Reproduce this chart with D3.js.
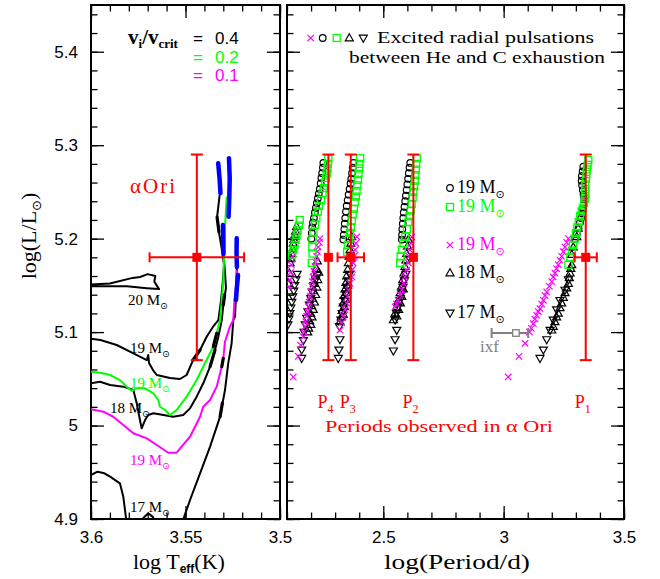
<!DOCTYPE html>
<html>
<head>
<meta charset="utf-8">
<script src="https://cdn.jsdelivr.net/npm/d3@7"></script>
<style>
  body { margin: 0; background: #fff; }
  text { fill: #000; }
</style>
</head>
<body>
<svg id="chart" width="660" height="579"></svg>
<script>
// ---------------- axis ticks ----------------
const lumMajor = [4.9, 5.0, 5.1, 5.2, 5.3, 5.4];
const lumLabels = ["4.9", "5", "5.1", "5.2", "5.3", "5.4"];
const teffMajor = [3.6, 3.55, 3.5];
const teffLabels = ["3.6", "3.55", "3.5"];
const perMajor = [2.5, 3.0, 3.5];
const perLabels = ["2.5", "3", "3.5"];

// ---------------- HR diagram tracks [logTeff, logL] ----------------
const track20 = [[3.600,5.151],[3.590,5.152],[3.578,5.158],[3.574,5.159],[3.570,5.162],[3.566,5.160],[3.5665,5.154],[3.564,5.146],[3.5705,5.147],[3.581,5.149],[3.600,5.149]];
const track19v04 = [[3.600,5.093],[3.595,5.0915],[3.5864,5.0862],[3.5778,5.0776],[3.5705,5.0701],[3.5697,5.0755],[3.5693,5.067],[3.5672,5.0594],[3.5652,5.0541],[3.5582,5.0508],[3.5529,5.0498],[3.5494,5.0541],[3.546,5.0701],[3.5423,5.0808],[3.5388,5.095],[3.5354,5.1058],[3.5326,5.1129],[3.5312,5.1343],[3.5302,5.1557],[3.5296,5.1718],[3.5307,5.1878],[3.5323,5.2071],[3.5333,5.2231],[3.5318,5.2488]];
const track19v02 = [[3.600,5.0576],[3.5952,5.0565],[3.5899,5.0541],[3.5847,5.0487],[3.5811,5.0415],[3.5785,5.0373],[3.5758,5.0398],[3.5714,5.0398],[3.567,5.0345],[3.5644,5.0273],[3.5635,5.0201],[3.5608,5.0166],[3.5582,5.0113],[3.5547,5.0166],[3.5494,5.0309],[3.5441,5.0487],[3.5397,5.0666],[3.5353,5.0843],[3.5335,5.0987],[3.5317,5.1129],[3.5308,5.1343],[3.530,5.1557],[3.5296,5.1807],[3.5291,5.2128],[3.5282,5.2449]];
const track19v01 = [[3.600,5.0174],[3.5935,5.0148],[3.5882,5.0094],[3.5829,5.0006],[3.5776,4.9917],[3.5705,4.9863],[3.5652,4.9792],[3.5591,4.9709],[3.5547,4.9709],[3.5529,4.9756],[3.5476,4.988],[3.5423,5.0094],[3.5406,5.0202],[3.537,5.0273],[3.5335,5.0416],[3.5308,5.063],[3.5300,5.072],[3.5291,5.0897],[3.5265,5.1058],[3.5247,5.1129],[3.5242,5.1311],[3.5233,5.1486],[3.5229,5.1664]];
const track18 = [[3.600,5.0452],[3.5952,5.0469],[3.5899,5.0434],[3.5829,5.0416],[3.5776,5.038],[3.5758,5.0238],[3.5741,5.0059],[3.5732,4.997],[3.5714,5.0059],[3.5697,5.0113],[3.567,5.0131],[3.5617,5.0113],[3.5565,5.0095],[3.5512,5.0113],[3.5476,5.0184],[3.5441,5.0309],[3.5406,5.0452],[3.537,5.063],[3.5344,5.0808],[3.5326,5.0951],[3.5308,5.1129],[3.530,5.129],[3.5286,5.1472],[3.5291,5.1643],[3.5299,5.1835]];
const track17hot = [[3.600,4.9471],[3.5965,4.9506],[3.5929,4.9489],[3.5899,4.9453],[3.5847,4.9382],[3.5829,4.9238],[3.5811,4.895]];
const track17loop = [[3.5735,4.895],[3.5723,4.901],[3.5697,4.9061],[3.5672,4.902],[3.5661,4.895]];
const track17rsg = [[3.552,4.895],[3.5476,4.9203],[3.5423,4.9489],[3.537,4.9774],[3.5317,5.0095],[3.5291,5.038],[3.5274,5.0666],[3.5256,5.088],[3.5247,5.1129],[3.5238,5.1165],[3.5234,5.1343],[3.5228,5.1696]];

// short thickened stretches along the red supergiant branches
const trackMarks = [
  [[3.5460,5.0701],[3.5423,5.0808]], [[3.5370,5.0630],[3.5344,5.0808]],
  [[3.5353,5.0843],[3.5335,5.0987]], [[3.5317,5.0095],[3.5305,5.0240]],
  [[3.5308,5.0630],[3.5300,5.0720]], [[3.5323,5.2071],[3.5333,5.2231]],
  [[3.5300,5.1290],[3.5293,5.1400]]
];

// stretches between He and C exhaustion
const pulsSeg1 = [[3.5315,5.2488],[3.5320,5.265],[3.5327,5.2806]];
const pulsSeg2 = [[3.5272,5.2235],[3.5268,5.245],[3.5266,5.265],[3.5270,5.286]];
const pulsSeg3 = [[3.5299,5.1835],[3.5300,5.200],[3.5302,5.2146]];
const pulsSeg4 = [[3.5228,5.1696],[3.5230,5.185],[3.5229,5.2003]];
const pulsSeg5 = [[3.5233,5.1343],[3.5228,5.148],[3.5222,5.1611]];

// alpha Ori position: [value, error]
const oriLogT = [3.544, 0.025];
const oriLogL = [5.18, 0.11];

// ---------------- pulsation periods [logP, logL] ----------------
const circles19 = [
  [2.251,5.281],[2.249,5.276],[2.246,5.270],[2.243,5.265],[2.240,5.259],[2.236,5.253],[2.232,5.248],[2.228,5.243],[2.224,5.238],[2.220,5.233],[2.216,5.228],[2.212,5.222],[2.208,5.217],[2.205,5.212],[2.203,5.206],[2.201,5.200],
  [2.376,5.281],[2.373,5.276],[2.370,5.270],[2.367,5.264],[2.364,5.259],[2.360,5.253],[2.356,5.247],[2.352,5.241],[2.348,5.235],[2.345,5.229],[2.342,5.222],[2.340,5.216],[2.338,5.210],[2.336,5.204],[2.334,5.199],
  [2.612,5.281],[2.609,5.276],[2.606,5.270],[2.603,5.264],[2.600,5.258],[2.597,5.252],[2.594,5.246],[2.591,5.240],[2.588,5.234],[2.585,5.228],[2.583,5.222],[2.581,5.216],[2.579,5.210],[2.578,5.204],[2.577,5.199],
  [3.331,5.277],[3.328,5.272],[3.325,5.267],[3.324,5.262],[3.326,5.257],[3.329,5.252],[3.332,5.247],[3.334,5.242],[3.333,5.237],[3.330,5.232],[3.327,5.227],[3.322,5.222],[3.317,5.217],[3.311,5.211],[3.304,5.205],[3.296,5.200]
];
const squares19 = [
  [2.153,5.220],[2.149,5.214],[2.144,5.209],[2.140,5.204],[2.136,5.199],[2.131,5.193],[2.126,5.188],[2.121,5.183],
  [2.272,5.286],[2.270,5.280],[2.268,5.275],[2.265,5.270],[2.262,5.265],[2.258,5.260],[2.253,5.254],[2.248,5.249],[2.241,5.241],[2.234,5.235],[2.228,5.229],[2.222,5.222],[2.216,5.215],[2.210,5.207],[2.206,5.199],[2.205,5.191],[2.206,5.184],[2.203,5.174],
  [2.404,5.286],[2.401,5.280],[2.399,5.275],[2.397,5.269],[2.395,5.263],[2.392,5.257],[2.389,5.251],[2.386,5.245],[2.382,5.239],[2.378,5.232],[2.373,5.226],[2.369,5.219],[2.365,5.212],[2.361,5.206],[2.357,5.200],[2.353,5.193],[2.350,5.186],
  [2.639,5.286],[2.637,5.280],[2.635,5.274],[2.633,5.268],[2.631,5.262],[2.628,5.256],[2.625,5.250],[2.622,5.244],[2.618,5.237],[2.614,5.230],[2.609,5.224],[2.604,5.218],[2.598,5.210],[2.591,5.202],[2.584,5.195],[2.577,5.188],[2.572,5.181],[2.570,5.174],
  [3.352,5.284],[3.349,5.279],[3.346,5.274],[3.344,5.269],[3.342,5.264],[3.339,5.258],[3.338,5.253],[3.340,5.248],[3.337,5.243],[3.334,5.238],[3.328,5.232],[3.324,5.229],[3.318,5.224],[3.312,5.218],[3.306,5.212],[3.301,5.206],[3.295,5.200],[3.288,5.193],[3.283,5.187],[3.276,5.180],[3.269,5.172]
];
const crosses19 = [
  [2.122,5.180],[2.118,5.172],[2.115,5.164],[2.112,5.156],[2.108,5.148],
  [2.237,5.200],[2.234,5.196],[2.230,5.191],[2.226,5.186],[2.223,5.181],[2.219,5.175],[2.216,5.170],[2.212,5.165],[2.209,5.159],[2.206,5.154],[2.203,5.149],[2.199,5.143],[2.196,5.138],[2.192,5.132],[2.189,5.127],[2.186,5.122],[2.182,5.117],[2.178,5.111],[2.175,5.106],[2.171,5.100],[2.168,5.095],[2.157,5.086],[2.147,5.074],[2.126,5.052],
  [2.390,5.202],[2.386,5.195],[2.383,5.188],[2.379,5.181],[2.375,5.174],[2.372,5.167],[2.369,5.159],[2.362,5.152],[2.355,5.145],[2.351,5.138],[2.348,5.131],[2.341,5.124],[2.334,5.117],[2.327,5.110],[2.320,5.102],
  [2.618,5.202],[2.615,5.195],[2.611,5.188],[2.607,5.181],[2.604,5.174],[2.597,5.166],[2.590,5.159],[2.584,5.152],[2.577,5.145],[2.570,5.140],[2.562,5.134],[2.555,5.130],[2.549,5.127],
  [3.269,5.200],[3.262,5.196],[3.255,5.191],[3.248,5.186],[3.241,5.181],[3.234,5.177],[3.227,5.172],[3.220,5.168],[3.213,5.163],[3.206,5.159],[3.200,5.154],[3.190,5.149],[3.179,5.143],[3.172,5.139],[3.165,5.134],[3.158,5.130],[3.151,5.125],[3.144,5.122],[3.137,5.118],[3.130,5.114],[3.123,5.109],[3.115,5.104],[3.107,5.100],[3.089,5.088],[3.064,5.074],[3.019,5.052]
];
const triUp18 = [
  [2.140,5.213],[2.136,5.208],[2.133,5.204],[2.129,5.199],[2.126,5.195],[2.123,5.189],[2.120,5.184],[2.116,5.179],[2.113,5.174],[2.110,5.163],[2.105,5.152],
  [2.226,5.176],[2.222,5.168],[2.232,5.164],[2.218,5.160],[2.228,5.156],[2.214,5.152],[2.224,5.148],[2.210,5.144],[2.219,5.140],[2.206,5.136],[2.214,5.132],[2.202,5.128],[2.209,5.124],[2.198,5.120],[2.204,5.116],[2.194,5.112],[2.199,5.108],[2.190,5.104],[2.186,5.100],
  [2.369,5.202],[2.365,5.195],[2.362,5.188],[2.358,5.181],[2.355,5.174],[2.352,5.167],[2.348,5.160],[2.345,5.153],[2.352,5.150],[2.341,5.146],[2.347,5.142],[2.337,5.139],[2.343,5.135],[2.333,5.131],[2.339,5.127],[2.329,5.123],[2.334,5.119],[2.325,5.116],[2.320,5.111],
  [2.604,5.199],[2.601,5.192],[2.597,5.184],[2.594,5.177],[2.590,5.170],[2.586,5.163],[2.581,5.156],[2.576,5.149],[2.583,5.146],[2.570,5.142],[2.577,5.138],[2.563,5.134],[2.571,5.131],[2.556,5.127],[2.564,5.124],[2.549,5.120],[2.556,5.117],[2.542,5.113],
  [3.310,5.211],[3.304,5.202],[3.289,5.191],[3.283,5.183],[3.283,5.172],[3.279,5.168],[3.276,5.163],[3.273,5.158],[3.269,5.152],[3.262,5.147],[3.255,5.142],[3.248,5.137],[3.241,5.131],[3.234,5.126],[3.227,5.120],[3.220,5.116],[3.213,5.111],[3.206,5.106],[3.200,5.102]
];
const triDown17 = [
  [2.142,5.162],[2.137,5.156],[2.132,5.150],[2.128,5.144],[2.124,5.138],[2.120,5.132],[2.116,5.126],[2.112,5.120],[2.108,5.114],[2.104,5.108],
  [2.226,5.161],[2.219,5.156],[2.212,5.150],[2.205,5.143],[2.199,5.136],[2.193,5.129],[2.187,5.122],[2.182,5.115],[2.176,5.108],[2.171,5.100],[2.168,5.091],[2.161,5.081],[2.161,5.072],
  [2.360,5.162],[2.354,5.155],[2.349,5.148],[2.344,5.141],[2.339,5.134],[2.334,5.127],[2.329,5.120],[2.324,5.113],[2.318,5.106],[2.320,5.092],[2.316,5.081],[2.313,5.072],
  [2.594,5.162],[2.588,5.155],[2.582,5.148],[2.576,5.141],[2.569,5.134],[2.562,5.127],[2.555,5.120],[2.549,5.113],[2.556,5.102],[2.549,5.092],[2.542,5.080],
  [3.269,5.156],[3.255,5.145],[3.234,5.134],[3.220,5.124],[3.206,5.113],[3.193,5.102],[3.179,5.092],[3.165,5.081],[3.151,5.072]
];

// observed periods of alpha Ori: logP and its error
const periodNames = ["4", "3", "2", "1"];
const periodLogP = [2.272, 2.365, 2.625, 3.341];
const periodErr = [0, 0.055, 0, 0.046];

// ixf reference period: [logP, minus, plus], logL
const ixfLogP = [3.051, 0.101, 0.051];
const ixfLogL = 5.099;

// ---------------- layout ----------------
const svg = d3.select("#chart");
const yL = d3.scaleLinear().domain([4.9, 5.45]).range([519, 5]);
const xT = d3.scaleLinear().domain([3.6, 3.5]).range([91, 280]);
const xP = d3.scaleLinear().domain([2.1, 3.5]).range([287, 624]);

const RED = "#ff0000", GREEN = "#00ff00", MAG = "#ff00ff", BLUE = "#0000ff", GREY = "#808080";
const SANS = "'Liberation Sans', Arial, sans-serif";
const SERIF = "'Liberation Serif', 'Times New Roman', serif";

const defs = svg.append("defs");
defs.append("clipPath").attr("id", "clipL").append("rect")
  .attr("x", 91).attr("y", 5).attr("width", 189).attr("height", 514);
defs.append("clipPath").attr("id", "clipR").append("rect")
  .attr("x", 287).attr("y", 5).attr("width", 337).attr("height", 514);

const lumMinor = d3.range(4.9, 5.4501, 0.02);

function panelAxes(x, xMajor, xMinor, xLabels) {
  const [x0, x1] = x.range();
  const [y1, y0] = yL.range();
  const style = g => {
    g.select(".domain").remove();
    g.selectAll("line").attr("stroke", "#000").attr("stroke-width", 1.3);
    g.selectAll("text").attr("font-family", SANS).attr("font-size", 17).attr("fill", "#000");
  };
  // bottom
  svg.append("g").attr("transform", `translate(0,${y1})`)
    .call(d3.axisBottom(x).tickValues(xMinor).tickSize(-6.5).tickFormat("")).call(style);
  svg.append("g").attr("transform", `translate(0,${y1})`)
    .call(d3.axisBottom(x).tickValues(xMajor).tickSize(-13).tickPadding(12)
      .tickFormat((d, i) => xLabels[i])).call(style);
  // top
  svg.append("g").attr("transform", `translate(0,${y0})`)
    .call(d3.axisTop(x).tickValues(xMinor).tickSize(-6.5).tickFormat("")).call(style);
  svg.append("g").attr("transform", `translate(0,${y0})`)
    .call(d3.axisTop(x).tickValues(xMajor).tickSize(-13).tickFormat("")).call(style);
  // left / right
  [[x0, d3.axisLeft], [x1, d3.axisRight]].forEach(([px, ax]) => {
    svg.append("g").attr("transform", `translate(${px},0)`)
      .call(ax(yL).tickValues(lumMinor).tickSize(-6.5).tickFormat("")).call(style);
    svg.append("g").attr("transform", `translate(${px},0)`)
      .call(ax(yL).tickValues(lumMajor).tickSize(-13).tickFormat("")).call(style);
  });
  svg.append("rect").attr("x", x0).attr("y", y0).attr("width", x1 - x0).attr("height", y1 - y0)
    .attr("fill", "none").attr("stroke", "#000").attr("stroke-width", 2);
}

panelAxes(xT, teffMajor, d3.range(3.5, 3.6001, 0.01), teffLabels);
panelAxes(xP, perMajor, d3.range(2.1, 3.5001, 0.1), perLabels);

// luminosity labels on the left panel
svg.append("g").attr("transform", "translate(91,0)")
  .call(d3.axisLeft(yL).tickValues(lumMajor).tickSize(0).tickPadding(13)
    .tickFormat((d, i) => lumLabels[i]))
  .call(g => {
    g.select(".domain").remove();
    g.selectAll("text").attr("font-family", SANS).attr("font-size", 17).attr("fill", "#000");
  });

// ---------------- left panel: tracks ----------------
const lineT = d3.line().x(d => xT(d[0])).y(d => yL(d[1]));
const gL = svg.append("g").attr("clip-path", "url(#clipL)");
const tracks = [
  [track20, "#000"], [track19v04, "#000"], [track18, "#000"],
  [track17hot, "#000"], [track17loop, "#000"], [track17rsg, "#000"],
  [track19v02, GREEN], [track19v01, MAG]
];
tracks.forEach(([pts, col]) => {
  gL.append("path").attr("d", lineT(pts)).attr("fill", "none")
    .attr("stroke", col).attr("stroke-width", 2).attr("stroke-linejoin", "round");
});
trackMarks.forEach(pts => {
  gL.append("path").attr("d", lineT(pts)).attr("fill", "none")
    .attr("stroke", "#000").attr("stroke-width", 3.2).attr("stroke-linecap", "round");
});
[pulsSeg1, pulsSeg2, pulsSeg3, pulsSeg4, pulsSeg5].forEach(pts => {
  gL.append("path").attr("d", lineT(pts)).attr("fill", "none")
    .attr("stroke", BLUE).attr("stroke-width", 4.5).attr("stroke-linecap", "round");
});

// error cross helper
function errorCross(g, cx, cy, xLo, xHi, yLo, yHi, col, sq, filled) {
  if (yLo !== null) {
    g.append("line").attr("x1", cx).attr("x2", cx).attr("y1", yLo).attr("y2", yHi)
      .attr("stroke", col).attr("stroke-width", 2);
    [yLo, yHi].forEach(v => g.append("line").attr("x1", cx - 6).attr("x2", cx + 6)
      .attr("y1", v).attr("y2", v).attr("stroke", col).attr("stroke-width", 2));
  }
  if (xLo !== null) {
    g.append("line").attr("x1", xLo).attr("x2", xHi).attr("y1", cy).attr("y2", cy)
      .attr("stroke", col).attr("stroke-width", 2);
    [xLo, xHi].forEach(v => g.append("line").attr("x1", v).attr("x2", v)
      .attr("y1", cy - 5).attr("y2", cy + 5).attr("stroke", col).attr("stroke-width", 2));
  }
  g.append("rect").attr("x", cx - sq / 2).attr("y", cy - sq / 2).attr("width", sq).attr("height", sq)
    .attr("fill", filled ? col : "#fff").attr("stroke", col).attr("stroke-width", filled ? 0 : 1.3);
}

errorCross(svg.append("g"), xT(oriLogT[0]), yL(oriLogL[0]),
  xT(oriLogT[0] + oriLogT[1]), xT(oriLogT[0] - oriLogT[1]),
  yL(oriLogL[0] - oriLogL[1]), yL(oriLogL[0] + oriLogL[1]), RED, 9, true);

// ---------------- right panel: periods ----------------
const gR = svg.append("g").attr("clip-path", "url(#clipR)");
const px = d => xP(d[0]), py = d => yL(d[1]);
const mk = {
  circle: (g, pts, col) => g.selectAll(null).data(pts).join("circle")
    .attr("cx", px).attr("cy", py).attr("r", 3.3).attr("fill", "none").attr("stroke", col).attr("stroke-width", 1.2),
  square: (g, pts, col) => g.selectAll(null).data(pts).join("rect")
    .attr("x", d => px(d) - 3.5).attr("y", d => py(d) - 3.5).attr("width", 7).attr("height", 7)
    .attr("fill", "none").attr("stroke", col).attr("stroke-width", 1.3),
  up: (g, pts, col) => g.selectAll(null).data(pts).join("path")
    .attr("d", d => `M${px(d)},${py(d) - 4.2}l4,7h-8z`)
    .attr("fill", "none").attr("stroke", col).attr("stroke-width", 1.2),
  down: (g, pts, col) => g.selectAll(null).data(pts).join("path")
    .attr("d", d => `M${px(d)},${py(d) + 4.2}l4,-7h-8z`)
    .attr("fill", "none").attr("stroke", col).attr("stroke-width", 1.2),
  cross: (g, pts, col) => g.selectAll(null).data(pts).join("path")
    .attr("d", d => `M${px(d) - 3.2},${py(d) - 3.2}l6.4,6.4m-6.4,0l6.4,-6.4`)
    .attr("fill", "none").attr("stroke", col).attr("stroke-width", 1.2)
};
mk.circle(gR, circles19, "#000");
mk.down(gR, triDown17, "#000");
mk.up(gR, triUp18, "#000");
mk.cross(gR, crosses19, MAG);
mk.square(gR, squares19, GREEN);

// observed periods
periodLogP.forEach((p, i) => {
  const e = periodErr[i];
  errorCross(svg.append("g"), xP(p), yL(oriLogL[0]),
    e > 0 ? xP(p - e) : null, e > 0 ? xP(p + e) : null,
    yL(oriLogL[0] - oriLogL[1]), yL(oriLogL[0] + oriLogL[1]), RED, 9, true);
  const t = svg.append("text").attr("x", xP(p) - 11).attr("y", 408)
    .attr("font-family", SERIF).attr("font-size", 18).style("fill", RED);
  t.append("tspan").text("P");
  t.append("tspan").attr("dy", 5).attr("font-size", 12).text(periodNames[i]);
});

// ixf
errorCross(svg.append("g"), xP(ixfLogP[0]), yL(ixfLogL),
  xP(ixfLogP[0] - ixfLogP[1]), xP(ixfLogP[0] + ixfLogP[2]), null, null, GREY, 6.5, false);
svg.append("text").attr("x", 480).attr("y", 352).attr("font-family", SERIF)
  .attr("font-size", 17).style("fill", GREY).text("ixf");

// ---------------- annotations ----------------
function sunLabel(x, y, num, col, size) {
  const t = svg.append("text").attr("x", x).attr("y", y).attr("font-family", SERIF)
    .attr("font-size", size).style("fill", col);
  t.append("tspan").text(num + " M");
  t.append("tspan").attr("dy", size * 0.28).attr("font-size", size * 0.62)
    .attr("font-family", "'DejaVu Sans', sans-serif").text("\u2299");
  return t;
}
sunLabel(128, 305, "20", "#000", 15);
sunLabel(130, 353, "19", "#000", 15);
sunLabel(130, 388, "19", GREEN, 15);
sunLabel(110, 413, "18", "#000", 15);
sunLabel(130, 465, "19", MAG, 15);
sunLabel(130, 512, "17", "#000", 15);

// alpha Ori
svg.append("text").attr("x", 130).attr("y", 193).attr("font-family", SERIF)
  .attr("font-size", 21).attr("textLength", 45).style("fill", RED).text("\u03b1Ori");

// rotation legend
const vt = svg.append("text").attr("x", 128).attr("y", 44).attr("font-family", SERIF)
  .attr("font-size", 21).attr("font-weight", "bold");
vt.append("tspan").text("v");
vt.append("tspan").attr("dy", 4).attr("font-size", 13).text("i");
vt.append("tspan").attr("dy", -4).text("/v");
vt.append("tspan").attr("dy", 4).attr("font-size", 13).text("crit");
const rotVals = [["0.4", "#000", 44], ["0.2", GREEN, 63], ["0.1", MAG, 81]];
rotVals.forEach(([v, col, y]) => {
  svg.append("text").attr("x", 193).attr("y", y).attr("font-family", SANS)
    .attr("font-size", 17).style("fill", col).text("=");
  svg.append("text").attr("x", 215).attr("y", y).attr("font-family", SANS)
    .attr("font-size", 17).style("fill", col).text(v);
});

// right panel legend
const gLeg = svg.append("g");
mk.cross(gLeg, [[xP.invert(310.7), yL.invert(38)]], MAG);
mk.circle(gLeg, [[xP.invert(322.7), yL.invert(38)]], "#000");
mk.square(gLeg, [[xP.invert(336.7), yL.invert(38)]], GREEN);
mk.up(gLeg, [[xP.invert(349.3), yL.invert(38)]], "#000");
mk.down(gLeg, [[xP.invert(363.3), yL.invert(38)]], "#000");
svg.append("text").attr("x", 377).attr("y", 43).attr("font-family", SERIF).attr("font-size", 17)
  .attr("textLength", 217).attr("lengthAdjust", "spacingAndGlyphs").text("Excited radial pulsations");
svg.append("text").attr("x", 349).attr("y", 63).attr("font-family", SERIF).attr("font-size", 17)
  .attr("textLength", 256).attr("lengthAdjust", "spacingAndGlyphs").text("between He and C exhaustion");

// model labels on the right panel
const modelRows = [
  ["circle", "#000", "19", 193], ["square", GREEN, "19", 212], ["cross", MAG, "19", 250],
  ["up", "#000", "18", 278], ["down", "#000", "17", 318]
];
modelRows.forEach(([kind, col, m, y]) => {
  mk[kind](svg.append("g"), [[xP.invert(450), yL.invert(y - 5)]], col);
  sunLabel(457, y, m, col, 18);
});

svg.append("text").attr("x", 325).attr("y", 432).attr("font-family", SERIF).attr("font-size", 17)
  .attr("textLength", 228).attr("lengthAdjust", "spacingAndGlyphs").style("fill", RED)
  .text("Periods observed in \u03b1 Ori");

// axis titles
const xt1 = svg.append("text").attr("x", 133).attr("y", 569)
  .attr("font-family", SERIF).attr("font-size", 22);
xt1.append("tspan").text("log  T");
xt1.append("tspan").attr("dy", 4).attr("font-size", 12).attr("font-weight", "bold")
  .attr("font-family", SANS).text("eff");
xt1.append("tspan").attr("dy", -4).text("(K)");
svg.append("text").attr("x", 384).attr("y", 569)
  .attr("font-family", SERIF).attr("font-size", 22).attr("textLength", 146)
  .attr("lengthAdjust", "spacingAndGlyphs").text("log(Period/d)");
const yt = svg.append("text").attr("transform", "translate(36,236) rotate(-90)")
  .attr("text-anchor", "middle").attr("font-family", SERIF).attr("font-size", 22);
yt.append("tspan").text("log(L/L");
yt.append("tspan").attr("dy", 5).attr("font-size", 13).attr("font-family", "'DejaVu Sans', sans-serif").text("\u2299");
yt.append("tspan").attr("dy", -5).text(")");
</script>
</body>
</html>
